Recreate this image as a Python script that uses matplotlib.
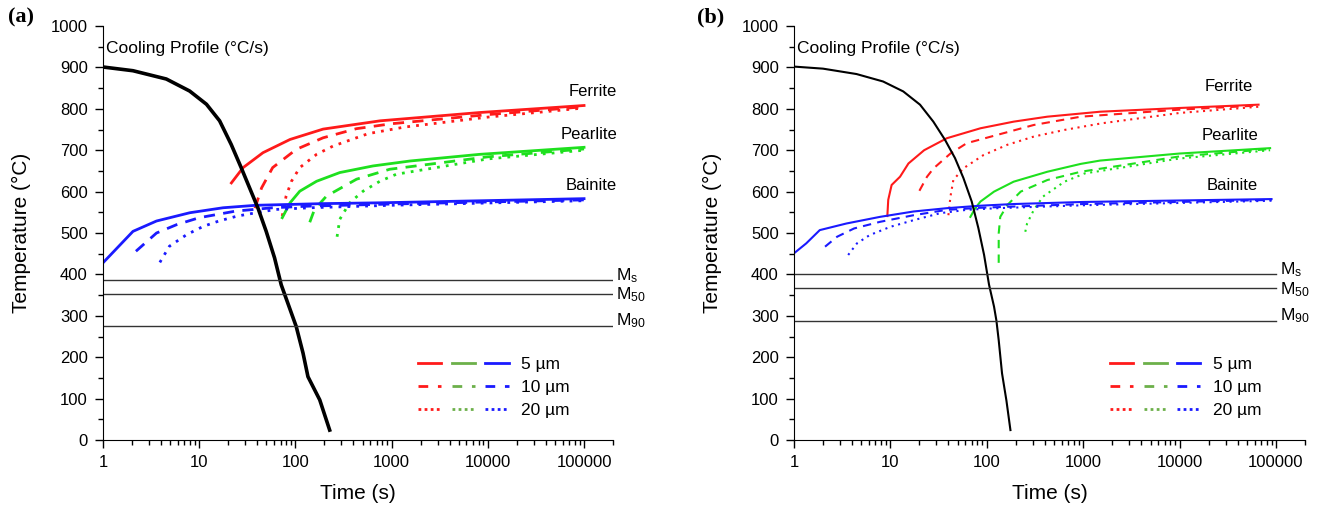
import matplotlib
matplotlib.use("Agg")
import matplotlib.pyplot as plt
from matplotlib.legend_handler import HandlerTuple
from matplotlib.lines import Line2D
from matplotlib.ticker import FixedLocator, LogLocator, MultipleLocator, NullFormatter

plt.rcParams['font.family'] = ['Liberation Sans', 'DejaVu Sans']
plt.rcParams['mathtext.default'] = 'regular'

# ---- panel (a) data: time (s), temperature (C) ----
a_cool_t = [1, 2.05, 4.55, 7.95, 11.9, 16.3, 21.5, 27.3, 33.4, 40.7, 49.7, 60.7, 71.2,
            102, 120, 135, 179, 227]
a_cool_T = [901, 892, 872, 843, 811, 771, 714, 658, 609, 561, 504, 440, 375,
            274, 210, 153, 97, 24]

a_fer5_t = [21.6, 28.6, 46, 88, 194, 760, 8200, 100000]
a_fer5_T = [621, 658, 694, 726, 751, 771, 791, 808]
a_fer10_t = [38, 44.5, 58, 102, 194, 430, 1000, 10000, 100000]
a_fer10_T = [560, 609, 658, 702, 730, 752, 764, 786, 805]
a_fer20_t = [73, 80, 91, 111, 166, 246, 570, 1370, 10000, 100000]
a_fer20_T = [541, 589, 625, 658, 690, 710, 740, 756, 780, 802]

a_pea5_t = [73, 88, 111, 166, 289, 640, 1560, 8200, 100000]
a_pea5_T = [537, 573, 601, 625, 646, 662, 674, 690, 707]
a_pea10_t = [141, 158, 210, 432, 955, 10000, 100000]
a_pea10_T = [526, 557, 589, 630, 654, 684, 703]
a_pea20_t = [271, 289, 366, 505, 755, 1120, 10000, 100000]
a_pea20_T = [491, 533, 573, 601, 625, 642, 679, 700]

a_bai5_t = [1, 2.05, 3.6, 8, 17.7, 39, 194, 760, 100000]
a_bai5_T = [428, 504, 529, 549, 561, 567, 571, 573, 583]
a_bai10_t = [2.2, 3.6, 5.8, 10, 24, 58, 141, 1000, 100000]
a_bai10_T = [456, 500, 520, 537, 553, 561, 565, 570, 580]
a_bai20_t = [3.9, 4.9, 7.4, 11, 16, 25, 39, 63, 141, 1000, 100000]
a_bai20_T = [429, 468, 496, 516, 529, 541, 549, 557, 561, 567, 578]

a_mart_T = [386, 353, 276]

# ---- panel (b) data ----
b_cool_t = [1, 2.0, 4.45, 8.4, 13.6, 20.3, 27.9, 36.9, 46.8, 57.2, 69.8, 81.8, 93.8,
            105.6, 119, 126, 133, 144, 160, 176]
b_cool_T = [902, 897, 884, 866, 842, 810, 769, 725, 681, 633, 576, 512, 447,
            375, 322, 288, 241, 161, 95, 24]

b_fer5_t = [9.3, 9.5, 10.3, 12.6, 15.4, 22.4, 38.6, 86, 190, 425, 1500, 10000, 66000]
b_fer5_T = [541, 580, 616, 636, 668, 700, 729, 753, 769, 781, 793, 802, 810]
b_fer10_t = [20, 24, 28, 42, 62, 308, 945, 10000, 66000]
b_fer10_T = [602, 636, 656, 692, 717, 761, 781, 798, 808]
b_fer20_t = [40, 42, 45, 57, 92, 163, 308, 640, 1560, 10000, 66000]
b_fer20_T = [543, 588, 628, 656, 688, 713, 733, 749, 765, 790, 805]

b_pea5_t = [67.6, 76, 86, 119, 190, 425, 945, 1500, 10000, 87000]
b_pea5_T = [539, 560, 576, 600, 624, 648, 667, 675, 692, 705]
b_pea10_t = [133, 133, 138, 164, 225, 425, 945, 10000, 87000]
b_pea10_T = [428, 499, 539, 568, 600, 628, 648, 685, 703]
b_pea20_t = [251, 262, 308, 383, 640, 1040, 10000, 87000]
b_pea20_T = [503, 523, 556, 588, 624, 644, 680, 700]

b_bai5_t = [1, 1.34, 1.85, 3.5, 7.8, 17.4, 38.6, 86, 190, 1000, 90000]
b_bai5_T = [451, 475, 507, 523, 539, 552, 560, 566, 570, 575, 582]
b_bai10_t = [2.1, 2.8, 4.2, 7.8, 17.4, 38.6, 86, 1000, 90000]
b_bai10_T = [467, 491, 511, 527, 543, 556, 561, 570, 580]
b_bai20_t = [3.65, 4.5, 6.1, 10, 17.4, 33, 62, 128, 1000, 90000]
b_bai20_T = [447, 475, 495, 515, 531, 548, 556, 560, 567, 578]

b_mart_T = [400, 366, 288]

mart_labels = ['M$_s$', 'M$_{50}$', 'M$_{90}$']
phase_labels = ['Ferrite', 'Pearlite', 'Bainite']
size_labels = ['5 \u00b5m', '10 \u00b5m', '20 \u00b5m']
xticks = [1, 10, 100, 1000, 10000, 100000]

RED = '#ff1a1a'
GREEN = '#1ee01e'
BLUE = '#1a1aff'
LEG_GREEN = '#6cb04a'

fig = plt.figure(figsize=(13.22, 5.07), dpi=100)
axa = fig.add_axes([0.0779, 0.1321, 0.3858, 0.8166])
axb = fig.add_axes([0.6006, 0.1321, 0.3865, 0.8166])


def style_axes(ax):
    ax.set_xscale('log')
    ax.set_xlim(1, 2e5)
    ax.set_ylim(0, 1000)
    ax.xaxis.set_major_locator(FixedLocator(xticks))
    ax.set_xticklabels([str(v) for v in xticks])
    ax.xaxis.set_minor_locator(LogLocator(base=10, subs=range(2, 10), numticks=20))
    ax.xaxis.set_minor_formatter(NullFormatter())
    ax.yaxis.set_major_locator(MultipleLocator(100))
    ax.yaxis.set_minor_locator(MultipleLocator(50))
    ax.spines['top'].set_visible(False)
    ax.spines['right'].set_visible(False)
    ax.tick_params(which='major', length=6, width=1, labelsize=12, pad=5)
    ax.tick_params(which='minor', length=3.5, width=1)
    ax.set_xlabel('Time (s)', fontsize=15, labelpad=10)
    ax.set_ylabel('Temperature (\u00b0C)', fontsize=15, labelpad=14)
    ax.text(1.08, 945, 'Cooling Profile (\u00b0C/s)', fontsize=12.5, va='center')


def draw_panel(ax, cool, fer, pea, bai, mart, lw, cool_lw, mart_end, mlab_x,
               ph_x, ph_T):
    style_axes(ax)
    dash = (0, (4, 3))
    dot = (0, (1, 2.2))
    styles = ['-', dash, dot]
    for color, curves in ((RED, fer), (GREEN, pea), (BLUE, bai)):
        for (t, T), ls in zip(curves, styles):
            ax.plot(t, T, color=color, lw=lw, ls=ls)
    ax.plot(cool[0], cool[1], color='black', lw=cool_lw)
    # M50 label sits centred on its line to clear the Ms subscript
    offsets = [0, -13, 0]
    for T, lab, off in zip(mart, mart_labels, offsets):
        ax.plot([1, mart_end], [T, T], color='#333333', lw=1)
        ax.text(mlab_x, T + off, lab, fontsize=12.5, va='baseline', ha='left', clip_on=False)
    for (x, T), lab in zip(zip(ph_x, ph_T), phase_labels):
        ax.text(x, T, lab, fontsize=12, va='center', ha='right', clip_on=False)

    handles = []
    for ls in ['-', (0, (3.5, 3.5)), (0, (1, 1.2))]:
        handles.append(tuple(Line2D([], [], color=c, lw=2, ls=ls) for c in (RED, LEG_GREEN, BLUE)))
    ax.legend(handles, size_labels, handler_map={tuple: HandlerTuple(ndivide=None, pad=0.6)},
              handlelength=5.2, frameon=False, fontsize=12.5, loc='lower right',
              bbox_to_anchor=(0.945, 0.015), labelspacing=0.45, handletextpad=0.7)


draw_panel(axa, (a_cool_t, a_cool_T),
           [(a_fer5_t, a_fer5_T), (a_fer10_t, a_fer10_T), (a_fer20_t, a_fer20_T)],
           [(a_pea5_t, a_pea5_T), (a_pea10_t, a_pea10_T), (a_pea20_t, a_pea20_T)],
           [(a_bai5_t, a_bai5_T), (a_bai10_t, a_bai10_T), (a_bai20_t, a_bai20_T)],
           a_mart_T, lw=2.0, cool_lw=2.6, mart_end=2e5, mlab_x=2.15e5,
           ph_x=[2.2e5, 2.2e5, 2.2e5], ph_T=[843, 738, 615])

draw_panel(axb, (b_cool_t, b_cool_T),
           [(b_fer5_t, b_fer5_T), (b_fer10_t, b_fer10_T), (b_fer20_t, b_fer20_T)],
           [(b_pea5_t, b_pea5_T), (b_pea10_t, b_pea10_T), (b_pea20_t, b_pea20_T)],
           [(b_bai5_t, b_bai5_T), (b_bai10_t, b_bai10_T), (b_bai20_t, b_bai20_T)],
           b_mart_T, lw=1.5, cool_lw=1.5, mart_end=1e5, mlab_x=1.1e5,
           ph_x=[5.8e4, 6.5e4, 6.5e4], ph_T=[853, 735, 614])

fig.text(0.006, 0.955, '(a)', fontsize=16, fontweight='bold', family='Liberation Serif')
fig.text(0.527, 0.955, '(b)', fontsize=16, fontweight='bold', family='Liberation Serif')

fig.savefig('out.png', dpi=100)
